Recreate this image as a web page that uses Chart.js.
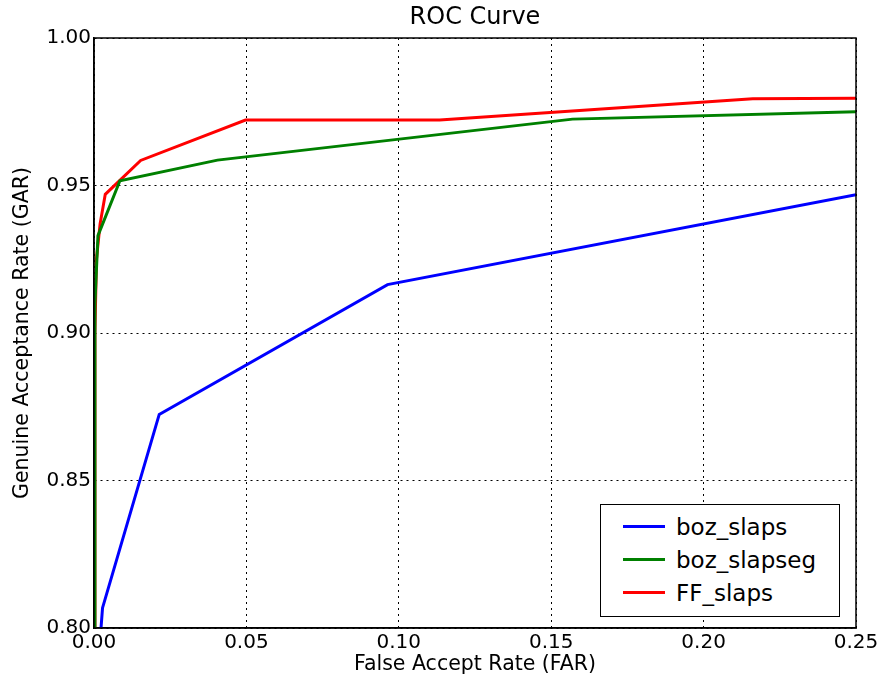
<!DOCTYPE html>
<html lang="en">
<head>
  <meta charset="UTF-8" />
  <title>ROC Curve</title>
  <script src="https://cdn.jsdelivr.net/npm/chart.js"></script>
  <style>
    body {
      margin: 0;
      background: #fff;
      font-family: "DejaVu Sans", sans-serif;
    }
    #wrap {
      position: relative;
      width: 878px;
      height: 678px;
    }
    #legend {
      position: absolute;
      left: 600px;
      top: 504px;
      width: 240px;
      height: 113px;
      border: 1.5px solid #000;
      background: #fff;
      font-size: 23px;
      color: #000;
      padding-top: 5px;
      box-sizing: border-box;
    }
    .item {
      display: flex;
      align-items: center;
      height: 33px;
    }
    .swatch {
      display: inline-block;
      width: 42px;
      height: 3px;
      margin-left: 22px;
      margin-right: 11px;
    }
  </style>
</head>
<body>
  <div id="wrap">
    <canvas id="roc" width="878" height="678"></canvas>
    <div id="legend"></div>
  </div>

  <script>
    // ROC curves, points as [FAR, GAR]
    const seriesNames = ["boz_slaps", "boz_slapseg", "FF_slaps"];
    const seriesColors = ["#0000ff", "#008000", "#ff0000"];

    const bozSlaps = [
      [0.0023, 0.800], [0.0028, 0.8068], [0.0214, 0.8724], [0.0963, 0.9164], [0.25, 0.9469]
    ];
    const bozSlapseg = [
      [0.0, 0.800], [0.0003, 0.910], [0.0013, 0.933], [0.0085, 0.9516],
      [0.0405, 0.9586], [0.157, 0.9725], [0.25, 0.975]
    ];
    const ffSlaps = [
      [0.0, 0.800], [0.0003, 0.900], [0.0008, 0.925], [0.002, 0.937], [0.0037, 0.947],
      [0.0153, 0.9585], [0.0497, 0.9722], [0.1134, 0.9722], [0.2161, 0.9794], [0.25, 0.9796]
    ];

    const xTicks = [0, 0.05, 0.10, 0.15, 0.20, 0.25];
    const yTicks = [0.80, 0.85, 0.90, 0.95, 1.00];

    const allSeries = [bozSlaps, bozSlapseg, ffSlaps];

    // full box around plot + title
    const framePlugin = {
      id: 'frame',
      afterDraw(chart) {
        const { ctx, chartArea: a } = chart;
        ctx.save();
        ctx.strokeStyle = '#000';
        ctx.lineWidth = 1.5;
        ctx.strokeRect(a.left, a.top, a.right - a.left, a.bottom - a.top);
        ctx.fillStyle = '#000';
        ctx.font = '24px "DejaVu Sans"';
        ctx.textAlign = 'center';
        ctx.textBaseline = 'middle';
        ctx.fillText('ROC Curve', (a.left + a.right) / 2, 18);
        ctx.restore();
      }
    };

    const ctx = document.getElementById("roc").getContext("2d");
    const chart = new Chart(ctx, {
      type: 'line',
      data: {
        datasets: allSeries.map((pts, i) => ({
          label: seriesNames[i],
          data: pts.map(p => ({ x: p[0], y: p[1] })),
          borderColor: seriesColors[i],
          backgroundColor: seriesColors[i],
          borderWidth: 3,
          pointRadius: 0,
          tension: 0,
          fill: false
        }))
      },
      options: {
        responsive: false,
        animation: false,
        layout: { padding: { top: 38, right: 22, left: 0, bottom: 0 } },
        plugins: {
          legend: { display: false },
          tooltip: { enabled: false }
        },
        scales: {
          x: {
            type: 'linear',
            min: 0,
            max: 0.25,
            afterBuildTicks: s => { s.ticks = xTicks.map(v => ({ value: v })); },
            afterFit: s => { s.height = 50; s.paddingLeft = 0; s.paddingRight = 0; },
            grid: { color: '#000', lineWidth: 1, drawTicks: false },
            border: { color: '#000', width: 1.5, dash: [2, 4] },
            ticks: {
              color: '#000',
              padding: 3,
              font: { family: 'DejaVu Sans', size: 20 },
              callback: v => v.toFixed(2),
              maxRotation: 0
            },
            title: {
              display: true,
              text: 'False Accept Rate (FAR)',
              color: '#000',
              font: { family: 'DejaVu Sans', size: 20.5 },
              padding: { top: 0, bottom: 1 }
            }
          },
          y: {
            type: 'linear',
            min: 0.80,
            max: 1.00,
            afterBuildTicks: s => { s.ticks = yTicks.map(v => ({ value: v })); },
            afterFit: s => { s.width = 94; s.paddingTop = 0; s.paddingBottom = 0; },
            grid: { color: '#000', lineWidth: 1, drawTicks: false },
            border: { color: '#000', width: 1.5, dash: [2, 4] },
            ticks: {
              color: '#000',
              padding: 3,
              font: { family: 'DejaVu Sans', size: 20 },
              callback: v => v.toFixed(2)
            },
            title: {
              display: true,
              text: 'Genuine Acceptance Rate (GAR)',
              color: '#000',
              font: { family: 'DejaVu Sans', size: 20.5 },
              padding: { top: 10, bottom: 0 }
            }
          }
        }
      },
      plugins: [framePlugin]
    });

    // legend box in lower right of the plot
    const legendEl = document.getElementById("legend");
    seriesNames.forEach((name, i) => {
      const row = document.createElement("div");
      row.className = "item";
      const sw = document.createElement("span");
      sw.className = "swatch";
      sw.style.background = seriesColors[i];
      row.appendChild(sw);
      row.appendChild(document.createTextNode(name));
      legendEl.appendChild(row);
    });
  </script>
</body>
</html>
